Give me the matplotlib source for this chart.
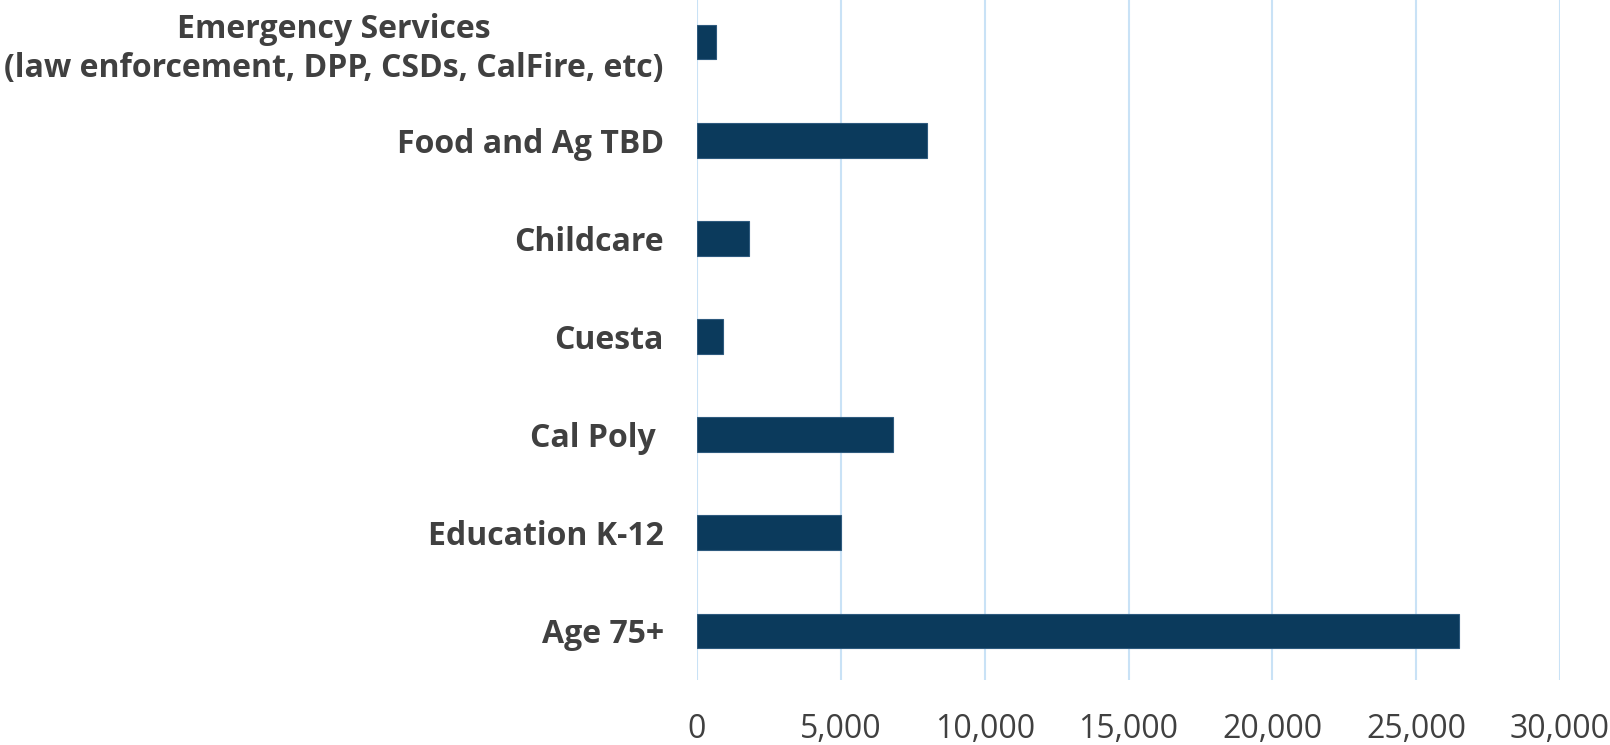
import matplotlib
matplotlib.use("Agg")
import matplotlib.pyplot as plt
from matplotlib.ticker import FuncFormatter

categories = [
    "Emergency Services\n(law enforcement, DPP, CSDs, CalFire, etc)",
    "Food and Ag TBD",
    "Childcare",
    "Cuesta",
    "Cal Poly ",
    "Education K-12",
    "Age 75+",
]
values = [650, 8000, 1800, 900, 6800, 5000, 26500]
x_ticks = [0, 5000, 10000, 15000, 20000, 25000, 30000]

plt.rcParams['font.family'] = ['Open Sans', 'DejaVu Sans']

fig = plt.figure(figsize=(16.1, 7.45), dpi=100)
ax = fig.add_axes([697 / 1610, 65 / 745, (1560 - 697) / 1610, 687 / 745])

pos = list(range(len(categories)))
ax.barh(pos, values, height=0.355, color="#0B3A5C", edgecolor="#2E5A7E",
        linewidth=0.8, zorder=3)
ax.set_ylim(len(categories) - 0.5, -0.5)
ax.set_yticks(pos)
ax.set_yticklabels(categories, fontsize=23, fontweight='bold', color="#404040",
                   multialignment='center', linespacing=1.25)
ax.set_xlim(0, 30000)
ax.set_xticks(x_ticks)
ax.xaxis.set_major_formatter(FuncFormatter(lambda v, p: f"{int(v):,}"))
ax.tick_params(axis='x', labelsize=23, labelcolor="#404040", length=0, pad=24)
ax.tick_params(axis='y', length=0, pad=24)
for s in ax.spines.values():
    s.set_visible(False)
ax.grid(axis='x', color="#C9E2F6", linewidth=1.5, zorder=0)
ax.set_axisbelow(True)

fig.savefig("out.png", dpi=100)
